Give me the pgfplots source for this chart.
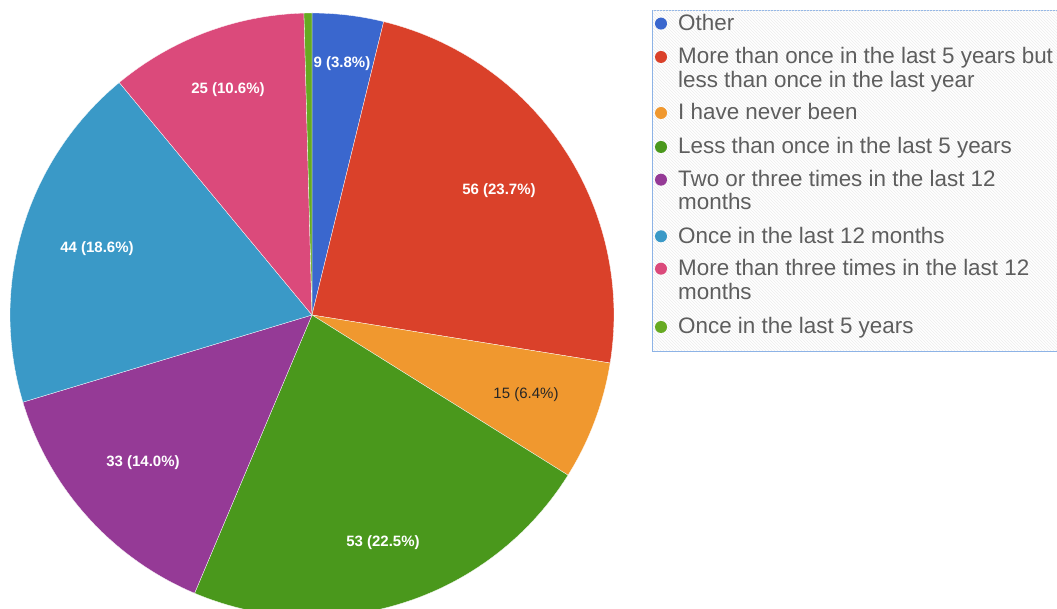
\documentclass[border=0pt]{standalone}
\usepackage{pgfplots}
\pgfplotsset{compat=1.18}
\usepackage{fontspec}
\setmainfont{Liberation Sans}
\usetikzlibrary{patterns}
\definecolor{cOther}{HTML}{3A67CE}
\definecolor{cRed}{HTML}{DA412A}
\definecolor{cOrange}{HTML}{F0982F}
\definecolor{cGreen}{HTML}{4A981C}
\definecolor{cPurple}{HTML}{953A96}
\definecolor{cCyan}{HTML}{3A99C7}
\definecolor{cPink}{HTML}{DB4A7B}
\definecolor{cLime}{HTML}{66AA22}
\definecolor{legtext}{HTML}{5E5E5E}
\definecolor{legborder}{HTML}{8DB3E6}
% counts of answers (total 236)
\def\nA{9}\def\nB{56}\def\nC{15}\def\nD{53}\def\nE{33}\def\nF{44}\def\nG{25}\def\nH{1}
\pgfmathsetmacro\tot{\nA+\nB+\nC+\nD+\nE+\nF+\nG+\nH}
\pgfmathsetmacro\deg{360/\tot}
\pgfmathsetmacro\aA{0}
\pgfmathsetmacro\aB{\aA+\deg*\nA}
\pgfmathsetmacro\aC{\aB+\deg*\nB}
\pgfmathsetmacro\aD{\aC+\deg*\nC}
\pgfmathsetmacro\aE{\aD+\deg*\nD}
\pgfmathsetmacro\aF{\aE+\deg*\nE}
\pgfmathsetmacro\aG{\aF+\deg*\nF}
\pgfmathsetmacro\aH{\aG+\deg*\nG}
\pgfmathsetmacro\aI{360}
\def\cx{312}\def\cy{293}\def\R{302}
\newcommand\slice[3]{%
  \addplot[fill=#1,draw=white,line width=0.3pt,domain=#2:#3,samples=60,variable=\t]
    ({\cx+\R*sin(\t)},{\cy+\R*cos(\t)}) -- (axis cs:\cx,\cy) -- cycle;}
\newcommand\legline[2]{\node[anchor=base west,text=legtext,font=\fontsize{22.4}{23}\selectfont,inner sep=0pt] at (axis cs:678,{608-#1}) {#2};}
\newcommand\legdot[2]{\fill[#1] (axis cs:661,{608-#2+7}) circle[radius=6];}
\begin{document}
\begin{tikzpicture}
\begin{axis}[width=1057pt,height=608pt,scale only axis,
  xmin=0,xmax=1057,ymin=0,ymax=608,hide axis,clip=true]
\slice{cOther}{\aA}{\aB}
\slice{cRed}{\aB}{\aC}
\slice{cOrange}{\aC}{\aD}
\slice{cGreen}{\aD}{\aE}
\slice{cPurple}{\aE}{\aF}
\slice{cCyan}{\aF}{\aG}
\slice{cPink}{\aG}{\aH}
\slice{cLime}{\aH}{\aI}
% slice labels
\begin{scope}[every node/.style={font=\bfseries\fontsize{15}{15}\selectfont,text=white,inner sep=0pt}]
\node at (axis cs:342,{608-64}) {9 (3.8\%)};
\node at (axis cs:499,{608-191}) {56 (23.7\%)};
\node[text=black!85,font=\fontsize{15}{15}\selectfont] at (axis cs:526,{608-395}) {15 (6.4\%)};
\node at (axis cs:383,{608-543}) {53 (22.5\%)};
\node at (axis cs:143,{608-463}) {33 (14.0\%)};
\node at (axis cs:97,{608-249}) {44 (18.6\%)};
\node at (axis cs:228,{608-90}) {25 (10.6\%)};
\end{scope}
% legend box
\draw[legborder,line width=1pt,fill=white] (axis cs:652.5,{608-10.5}) rectangle (axis cs:1062,{608-351.5});
\fill[pattern=north west lines,pattern color=black!7] (axis cs:653,{608-11}) rectangle (axis cs:1057,{608-351});
\legdot{cOther}{30.6}\legline{30.6}{Other}
\legdot{cRed}{64}\legline{64}{More than once in the last 5 years but}
\legline{87.3}{less than once in the last year}
\legdot{cOrange}{120}\legline{120}{I have never been}
\legdot{cGreen}{154}\legline{154}{Less than once in the last 5 years}
\legdot{cPurple}{186.7}\legline{186.7}{Two or three times in the last 12}
\legline{210}{months}
\legdot{cCyan}{243.3}\legline{243.3}{Once in the last 12 months}
\legdot{cPink}{275.7}\legline{275.7}{More than three times in the last 12}
\legline{300}{months}
\legdot{cLime}{334}\legline{334}{Once in the last 5 years}
\end{axis}
\pgfresetboundingbox
\path[use as bounding box] (current axis.south west) rectangle (current axis.north east);
\end{tikzpicture}
\end{document}
